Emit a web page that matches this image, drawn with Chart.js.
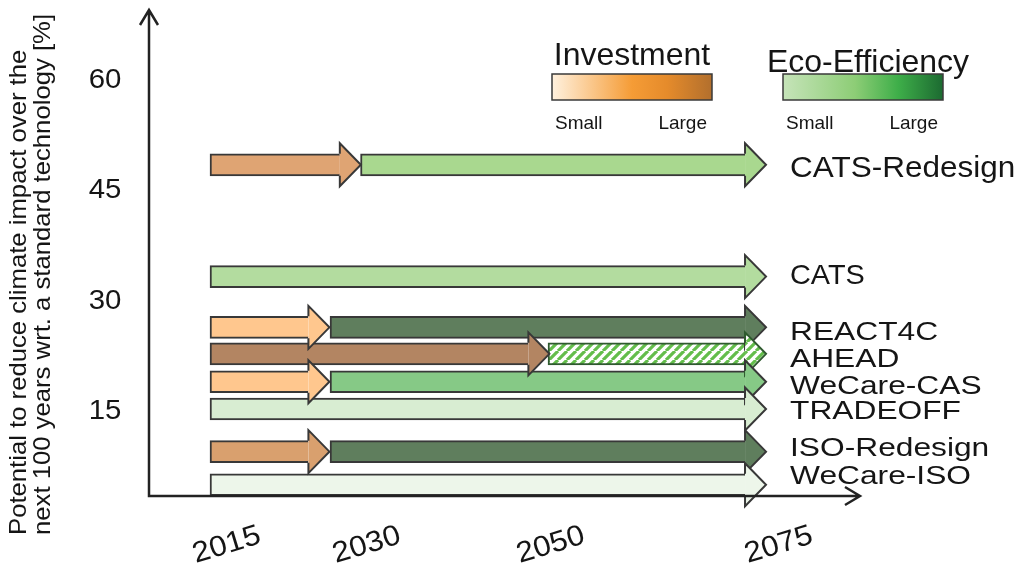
<!DOCTYPE html>
<html>
<head>
<meta charset="utf-8">
<title>Climate impact reduction roadmap</title>
<script src="https://cdn.jsdelivr.net/npm/chart.js@4.4.1/dist/chart.umd.min.js"></script>
<style>
  html, body { margin: 0; padding: 0; background: #fff; }
  #wrap { width: 1026px; height: 572px; }
</style>
</head>
<body>
<div id="wrap"><canvas id="roadmapChart"></canvas></div>
<script>
  // projects, top to bottom
  const projects = ['CATS-Redesign', 'CATS', 'REACT4C', 'AHEAD', 'WeCare-CAS', 'TRADEOFF', 'ISO-Redesign', 'WeCare-ISO'];
  // potential to reduce climate impact [%]
  const potential = [48.2, 33.0, 26.1, 22.5, 18.7, 15.0, 9.2, 4.7];
  // investment phase (null = none)
  const investFrom = [2015, null, 2015, 2015, 2015, null, 2015, null];
  const investTo = [2030.9, null, 2027.3, 2048.2, 2027.3, null, 2027.3, null];
  // eco-efficiency phase
  const ecoFrom = [2032.8, 2015, 2030, 2050, 2030, 2015, 2030, 2015];
  const ecoTo = [2075, 2075, 2075, 2075, 2075, 2075, 2075, 2075];

  const yearTicks = [2015, 2030, 2050, 2075];
  const potentialTicks = [15, 30, 45, 60];
  const axisTitle = ['Potential to reduce climate impact over the', 'next 100 years wrt. a standard technology [%]'];

  const FONT = "'Liberation Sans', Arial, sans-serif";
  const INK = '#151515';
  const EDGE = '#383838';

  const canvas = document.getElementById('roadmapChart');

  // green / white diagonal hatch for the uncertain phase
  function hatch() {
    const tile = document.createElement('canvas');
    tile.width = tile.height = 9;
    const g = tile.getContext('2d');
    g.fillStyle = '#ffffff';
    g.fillRect(0, 0, 9, 9);
    g.strokeStyle = '#63bd4b';
    g.lineWidth = 3.2;
    g.beginPath();
    [-9, 0, 9].forEach(k => { g.moveTo(k, 9); g.lineTo(k + 9, 0); });
    g.stroke();
    return canvas.getContext('2d').createPattern(tile, 'repeat');
  }

  const investColors = ['#dfa473', null, '#ffc78e', '#b38562', '#ffc78e', null, '#d9a06e', null];
  const ecoColors = ['#a9d88f', '#b3dc9f', '#5f7e5d', hatch(), '#86c986', '#d8edd2', '#5f7e5d', '#edf6ea'];
  const ecoEdges = [EDGE, EDGE, EDGE, '#2f5a2f', EDGE, EDGE, EDGE, EDGE];

  // year axis: the picture spaces the years unevenly
  class YearScale extends Chart.LinearScale {
    getPixelForValue(value) {
      if (value === null || value === undefined || isNaN(value)) return NaN;
      const stops = this.options.stops;
      let i = 1;
      while (i < stops.length - 1 && value > stops[i][0]) i++;
      const [y0, f0] = stops[i - 1];
      const [y1, f1] = stops[i];
      return this.getPixelForDecimal(f0 + (value - y0) / (y1 - y0) * (f1 - f0));
    }
    getValueForPixel(pixel) {
      const stops = this.options.stops;
      const d = this.getDecimalForPixel(pixel);
      let i = 1;
      while (i < stops.length - 1 && d > stops[i][1]) i++;
      const [y0, f0] = stops[i - 1];
      const [y1, f1] = stops[i];
      return y0 + (d - f0) / (f1 - f0) * (y1 - y0);
    }
  }
  YearScale.id = 'year';
  YearScale.defaults = {};
  Chart.register(YearScale);

  function stretchText(ctx, text, x, y, size, sx, align) {
    ctx.save();
    ctx.font = size + 'px ' + FONT;
    ctx.translate(x, y);
    ctx.scale(sx, 1);
    ctx.textAlign = align || 'left';
    ctx.textBaseline = 'alphabetic';
    ctx.fillText(text, 0, 0);
    ctx.restore();
  }

  const arrowHeads = {
    id: 'arrowHeads',
    afterDatasetDraw(chart, args, opts) {
      const ctx = chart.ctx;
      ctx.save();
      args.meta.data.forEach(bar => {
        const half = bar.height / 2;
        ctx.beginPath();
        ctx.moveTo(bar.x, bar.y - half);
        ctx.lineTo(bar.x, bar.y - opts.wing);
        ctx.lineTo(bar.x + opts.length, bar.y);
        ctx.lineTo(bar.x, bar.y + opts.wing);
        ctx.lineTo(bar.x, bar.y + half);
        ctx.fillStyle = bar.options.backgroundColor;
        ctx.fill();
        ctx.lineWidth = 2;
        ctx.lineJoin = 'miter';
        ctx.strokeStyle = bar.options.borderColor;
        ctx.stroke();
      });
      ctx.restore();
    }
  };

  const decorations = {
    id: 'decorations',
    afterDraw(chart, args, opts) {
      const ctx = chart.ctx;
      const { left, right, top, bottom } = chart.chartArea;
      const xs = chart.scales.x, ys = chart.scales.y;
      ctx.save();
      ctx.fillStyle = INK;

      // axes with arrow tips
      ctx.strokeStyle = '#222';
      ctx.lineWidth = 2.5;
      ctx.beginPath();
      ctx.moveTo(left, top);
      ctx.lineTo(left, bottom);
      ctx.lineTo(right, bottom);
      ctx.moveTo(left - 9, top + 15);
      ctx.lineTo(left, top);
      ctx.lineTo(left + 9, top + 15);
      ctx.moveTo(right - 15, bottom - 9);
      ctx.lineTo(right, bottom);
      ctx.lineTo(right - 15, bottom + 9);
      ctx.stroke();

      // y tick labels
      ys.ticks.forEach(t => {
        stretchText(ctx, String(t.value), left - 44, ys.getPixelForValue(t.value) + 0.358 * 28, 28, 1.05, 'center');
      });

      // x tick labels, tilted
      xs.ticks.forEach(t => {
        const px = xs.getPixelForValue(t.value) + (opts.yearNudge[t.value] || 0);
        ctx.save();
        ctx.translate(px, bottom + 47);
        ctx.rotate(-17 * Math.PI / 180);
        stretchText(ctx, String(t.value), 0, 0.358 * 29, 29, 1.08, 'center');
        ctx.restore();
      });

      // y axis title
      ctx.save();
      ctx.translate(26, 535);
      ctx.rotate(-Math.PI / 2);
      axisTitle.forEach((line, i) => stretchText(ctx, line, 0, i * 24, 24, 1.07, 'left'));
      ctx.restore();

      // project names
      const xLabel = xs.getPixelForValue(2075) + 45;
      projects.forEach((name, i) => {
        const st = opts.names[i];
        const y = ys.getPixelForValue(potential[i]) + st.dy + 0.358 * st.size;
        stretchText(ctx, name, xLabel, y, st.size, st.sx, 'left');
      });

      // colour keys
      opts.keys.forEach(k => {
        const g = ctx.createLinearGradient(k.x, 0, k.x + k.w, 0);
        k.stops.forEach(([p, c]) => g.addColorStop(p, c));
        ctx.fillStyle = g;
        ctx.fillRect(k.x, k.y, k.w, k.h);
        ctx.lineWidth = 1.5;
        ctx.strokeStyle = '#3a3a3a';
        ctx.strokeRect(k.x, k.y, k.w, k.h);
        ctx.fillStyle = INK;
        stretchText(ctx, k.title, k.x + k.w / 2 + k.titleDx, k.titleY, 32, 1, 'center');
        stretchText(ctx, 'Small', k.x + 3, k.y + 55, 19, 1, 'left');
        stretchText(ctx, 'Large', k.x + k.w - 5, k.y + 55, 19, 1, 'right');
      });
      ctx.restore();
    }
  };

  const rows = projects.map((p, i) => i);

  new Chart(canvas, {
    type: 'bar',
    data: {
      datasets: [{
        label: 'Investment',
        data: rows.filter(i => investFrom[i] !== null).map(i => ({ x: [investFrom[i], investTo[i]], y: potential[i] })),
        backgroundColor: rows.filter(i => investFrom[i] !== null).map(i => investColors[i]),
        borderColor: EDGE
      }, {
        label: 'Eco-Efficiency',
        data: rows.map(i => ({ x: [ecoFrom[i], ecoTo[i]], y: potential[i] })),
        backgroundColor: ecoColors,
        borderColor: ecoEdges
      }]
    },
    options: {
      indexAxis: 'y',
      responsive: true,
      maintainAspectRatio: false,
      animation: false,
      events: [],
      layout: { padding: { left: 149, right: 166, top: 10, bottom: 76 } },
      datasets: {
        bar: {
          grouped: false,
          barThickness: 22,
          borderWidth: { top: 2, bottom: 2, left: 2, right: 0 },
          borderSkipped: false
        }
      },
      scales: {
        x: {
          type: 'year',
          display: false,
          offset: false,
          min: 2007.4,
          max: 2089.6,
          stops: [[2007.4, 0], [2015, 0.0858], [2030, 0.2546], [2050, 0.5612], [2075, 0.8383], [2089.6, 1]],
          afterBuildTicks: s => { s.ticks = yearTicks.map(v => ({ value: v })); }
        },
        y: {
          type: 'linear',
          display: false,
          offset: false,
          min: 3.17,
          max: 69.25,
          afterBuildTicks: s => { s.ticks = potentialTicks.map(v => ({ value: v })); }
        }
      },
      plugins: {
        legend: { display: false },
        tooltip: { enabled: false },
        arrowHeads: { wing: 21.5, length: 21 },
        decorations: {
          yearNudge: { 2015: 16, 2030: 36, 2050: 2, 2075: 33 },
          names: [
            { size: 30, sx: 1.05, dy: 1 },
            { size: 28, sx: 1.03, dy: -3 },
            { size: 26, sx: 1.22, dy: 3 },
            { size: 26, sx: 1.22, dy: 3.5 },
            { size: 26, sx: 1.22, dy: 3 },
            { size: 26, sx: 1.22, dy: 1 },
            { size: 26, sx: 1.22, dy: -4.5 },
            { size: 26, sx: 1.22, dy: -10 }
          ],
          keys: [
            { title: 'Investment', x: 552, y: 74, w: 160, h: 26, titleY: 65, titleDx: 0,
              stops: [[0, '#fff1de'], [0.5, '#f59c36'], [0.72, '#e58b2b'], [1, '#b26f2d']] },
            { title: 'Eco-Efficiency', x: 783, y: 74, w: 160, h: 26, titleY: 72, titleDx: 5,
              stops: [[0, '#c6e4b9'], [0.45, '#8dcd76'], [0.72, '#3eae49'], [1, '#1c6a31']] }
          ]
        }
      }
    },
    plugins: [arrowHeads, decorations]
  });
</script>
</body>
</html>
